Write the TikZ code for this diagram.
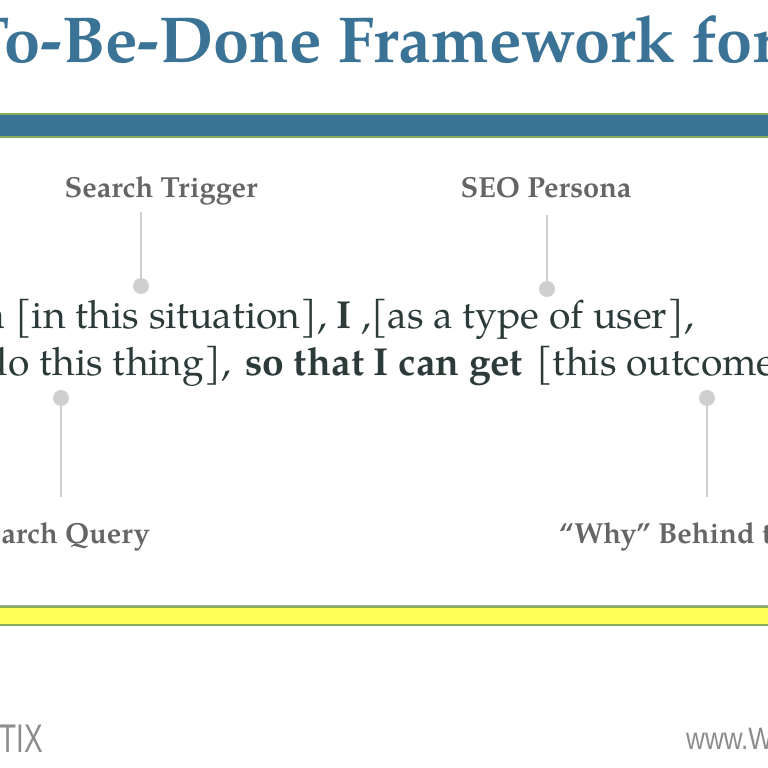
\documentclass[tikz,border=0pt]{standalone}
\usepackage{fontspec}
\setmainfont{TeX Gyre Pagella}
\newfontfamily\footfont{Liberation Sans}
\definecolor{titleblue}{HTML}{3A7396}
\definecolor{barblue}{HTML}{3A7396}
\definecolor{bargreen}{HTML}{86AE55}
\definecolor{baryellow}{HTML}{FFFF55}
\definecolor{bargray}{HTML}{A3AAA0}
\definecolor{bodytext}{HTML}{2C3A3A}
\definecolor{lblgray}{HTML}{656565}
\definecolor{leadgray}{HTML}{CFCFCF}
\definecolor{footgray}{HTML}{8C8C8C}
\tikzset{
  titletext/.style={anchor=base west, inner sep=0pt, text=titleblue, font=\bfseries\fontsize{65}{70}\selectfont},
  bodyline/.style={anchor=base west, inner sep=0pt, text=bodytext, font=\fontsize{39}{44}\selectfont},
  lbl/.style={inner sep=0pt, text=lblgray, font=\bfseries\fontsize{29}{32}\selectfont},
  lead/.style={draw=leadgray, line width=2pt},
  dotn/.style={circle, fill=leadgray, minimum size=16pt, inner sep=0pt},
  foot/.style={inner sep=0pt, text=footgray}
}
\begin{document}
\begin{tikzpicture}[x=1pt,y=-1pt]
\useasboundingbox (0,0) rectangle (768,768);
\fill[white] (0,0) rectangle (768,768);
\clip (0,0) rectangle (768,768);

% title
\node[titletext] (title) at (338,63) {\llap{Jobs-To-Be-Done }Framework for SEO};

% blue bar
\fill[barblue] (-5,113) rectangle (775,138);
\draw[bargreen, line width=2pt] (-5,114) -- (775,114);
\draw[bargreen, line width=2pt] (-5,137) -- (775,137);

% top labels
\node[lbl, anchor=base] (trigger) at (161,197) {Search Trigger};
\node[lbl, anchor=base] (persona) at (546,197) {SEO Persona};
\coordinate (trigtop) at (141,212);
\coordinate (perstop) at (547,215);
\node[dotn] (trigdot) at (141,286) {};
\node[dotn] (persdot) at (547,289) {};
\draw[lead] (trigtop) -- (trigdot.center);
\draw[lead] (perstop) -- (persdot.center);

% sentence
\node[bodyline] (line1) at (15,328) {\llap{\textbf{When} }[in this situation], \textbf{I} ,[as a type of user],};
\node[bodyline, anchor=base east] (line2a) at (231,375) {\textbf{want to} [do this thing],};
\node[bodyline] (line2b) at (245,375) {\textbf{so that I can get}};
\node[bodyline] (line2c) at (536,375) {[this outcome].};

% bottom labels
\node[dotn] (querydot) at (61,398) {};
\node[dotn] (whydot) at (707,398) {};
\coordinate (querybot) at (61,497);
\coordinate (whybot) at (707,497);
\draw[lead] (querydot.center) -- (querybot);
\draw[lead] (whydot.center) -- (whybot);
\node[lbl, anchor=base east] (query) at (150,543) {Search Query};
\node[lbl, anchor=base west] (why) at (559,543) {“Why” Behind the Search};

% yellow bar
\fill[baryellow] (-5,606) rectangle (775,625);
\draw[bargreen, line width=2pt] (-5,607) -- (775,607);
\draw[bargreen, line width=2pt] (-5,625) -- (775,625);
\draw[bargray, line width=1pt] (-5,605.5) -- (775,605.5);

% footer
\node[foot, anchor=base east] (brand) at (43,752) {\scalebox{0.7}[1]{\footfont\fontsize{40}{44}\selectfont TIX}};
\node[foot, anchor=base west] (url) at (686,749) {\scalebox{0.84}[1]{\footfont\fontsize{31}{36}\selectfont www.W}};
\end{tikzpicture}
\end{document}
